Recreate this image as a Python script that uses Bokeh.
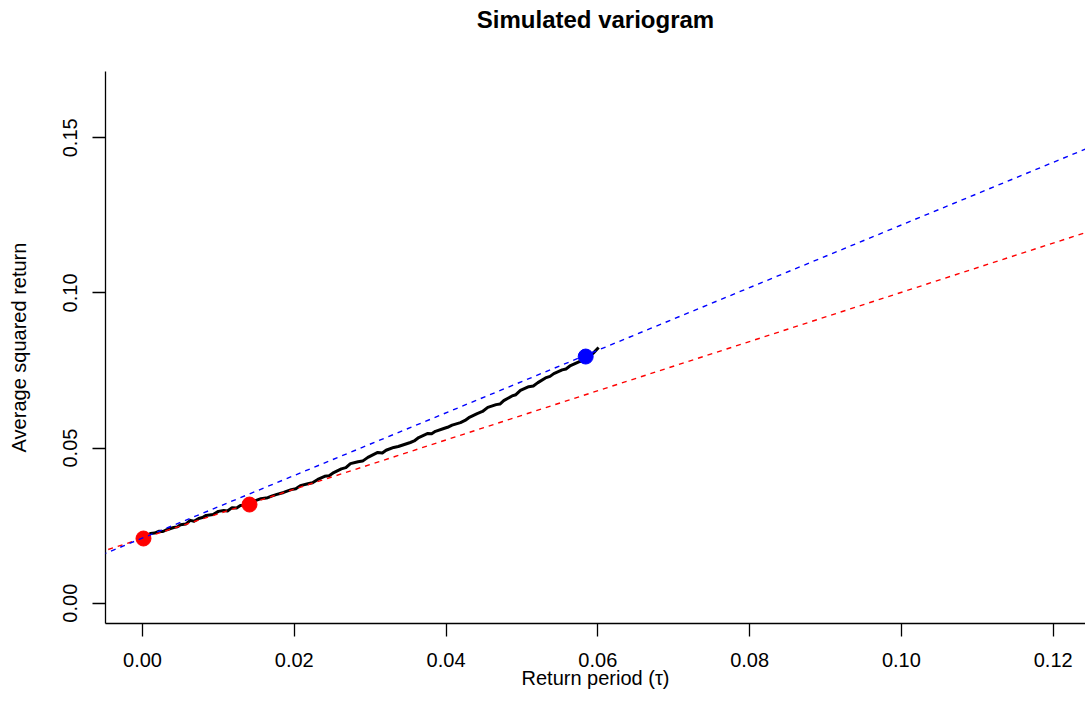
from bokeh.plotting import figure
from bokeh.models import Range1d, FixedTicker, Slope, Title
from bokeh.embed import file_html
from bokeh.resources import INLINE

# Simulated variogram: average squared return against return period
tau = [0.00013, 0.00105, 0.0016, 0.0022, 0.0027, 0.0031, 0.0036, 0.0041, 0.0046, 0.0050,
       0.0057, 0.0063, 0.0068, 0.0074, 0.0079, 0.0084, 0.0093, 0.0100, 0.0107, 0.0112,
       0.0118, 0.0124, 0.0129, 0.0135, 0.0141, 0.0148, 0.0156, 0.0165, 0.0171, 0.0176,
       0.0186, 0.0196, 0.0202, 0.0208, 0.0218, 0.0224, 0.0231, 0.0240, 0.0246, 0.0252,
       0.0262, 0.0268, 0.0274, 0.0284, 0.0290, 0.0297, 0.0310, 0.0316, 0.0321, 0.0331,
       0.0337, 0.0342, 0.0353, 0.0358, 0.0364, 0.0376, 0.0381, 0.0386, 0.0397, 0.0402,
       0.0408, 0.0419, 0.0425, 0.0430, 0.0441, 0.0448, 0.0455, 0.0466, 0.0471, 0.0476,
       0.0487, 0.0492, 0.0498, 0.0509, 0.0515, 0.0521, 0.0531, 0.0537, 0.0542, 0.0553,
       0.0558, 0.0564, 0.0575, 0.0580, 0.0586, 0.0594, 0.0601]
avg_sq_return = [0.02085, 0.02246, 0.0226, 0.0232, 0.0231, 0.0236, 0.0240, 0.0244, 0.0246, 0.0253,
                 0.0255, 0.0267, 0.0264, 0.0273, 0.0276, 0.0283, 0.0286, 0.0296, 0.0299, 0.0297,
                 0.0308, 0.0307, 0.0315, 0.0315, 0.0318, 0.0330, 0.0337, 0.0340, 0.0346, 0.0350,
                 0.0357, 0.0366, 0.0369, 0.0379, 0.0385, 0.0388, 0.0399, 0.0409, 0.0411, 0.0421,
                 0.0433, 0.0437, 0.0450, 0.0456, 0.0458, 0.0470, 0.0486, 0.0484, 0.0493, 0.0502,
                 0.0505, 0.0509, 0.0518, 0.0523, 0.0534, 0.0547, 0.0546, 0.0554, 0.0563, 0.0567,
                 0.0574, 0.0582, 0.0589, 0.0598, 0.0611, 0.0618, 0.0631, 0.0640, 0.0642, 0.0653,
                 0.0668, 0.0672, 0.0686, 0.0698, 0.0700, 0.0711, 0.0726, 0.0731, 0.0740, 0.0752,
                 0.0755, 0.0766, 0.0778, 0.0781, 0.0789, 0.0806, 0.0824]

# Short-horizon fit points (red) and long-horizon point (blue)
short_tau = [0.00013, 0.0141]
short_val = [0.02085, 0.0318]
long_tau = [0.0584]
long_val = [0.0795]

# Fitted lines: intercept + slope * tau
short_fit = {"intercept": 0.0209, "slope": 0.793}
long_fit = {"intercept": 0.0210, "slope": 1.009}

x_ticks = [0.00, 0.02, 0.04, 0.06, 0.08, 0.10, 0.12]
y_ticks = [0.00, 0.05, 0.10, 0.15]

FONT = "Liberation Sans"

p = figure(width=1085, height=717, output_backend="svg", toolbar_location=None,
           x_range=Range1d(-0.004875, 0.12426), y_range=Range1d(-0.00654, 0.17137),
           min_border_left=105, min_border_right=0, min_border_top=71, min_border_bottom=94,
           title=None)
p.outline_line_color = None
p.xgrid.visible = False
p.ygrid.visible = False
p.background_fill_color = "white"
p.border_fill_color = "white"

# Title with an empty second line so that it sits near the top of the page
p.add_layout(Title(text="Simulated variogram\n", align="center", text_font=FONT,
                   text_font_size="24px", text_font_style="bold", text_color="black",
                   text_line_height=1.35, standoff=4), "above")

p.add_layout(Slope(gradient=short_fit["slope"], y_intercept=short_fit["intercept"],
                   line_color="#FF0000", line_width=1.4, line_dash="5 5"))
p.add_layout(Slope(gradient=long_fit["slope"], y_intercept=long_fit["intercept"],
                   line_color="#0000FF", line_width=1.4, line_dash="5 5"))

p.line(tau, avg_sq_return, line_color="black", line_width=3, line_join="round")

p.scatter(short_tau, short_val, size=15, color="#FF0000")
p.scatter(long_tau, long_val, size=15, color="#0000FF")

for ax in (p.xaxis[0], p.yaxis[0]):
    ax.axis_line_color = "black"
    ax.axis_line_width = 1.3
    ax.major_tick_line_color = "black"
    ax.major_tick_line_width = 1.3
    ax.major_tick_out = 13
    ax.major_tick_in = 0
    ax.minor_tick_line_color = None
    ax.major_label_text_font = FONT
    ax.major_label_text_font_size = "20px"
    ax.major_label_text_color = "black"
    ax.axis_label_text_font = FONT
    ax.axis_label_text_font_size = "20px"
    ax.axis_label_text_font_style = "normal"
    ax.axis_label_text_color = "black"

p.xaxis.ticker = FixedTicker(ticks=x_ticks)
p.xaxis.major_label_overrides = {t: f"{t:.2f}" for t in x_ticks}
p.xaxis.axis_label = "Return period (\u03c4)"
p.xaxis.major_label_standoff = 16
p.xaxis.axis_label_standoff = -3

p.yaxis.ticker = FixedTicker(ticks=y_ticks)
p.yaxis.major_label_overrides = {t: f"{t:.2f}" for t in y_ticks}
p.yaxis.major_label_orientation = "vertical"
p.yaxis.axis_label = "Average squared return"
p.yaxis.major_label_standoff = 15
p.yaxis.axis_label_standoff = 31

open("out.html", "w").write(file_html(p, INLINE))
